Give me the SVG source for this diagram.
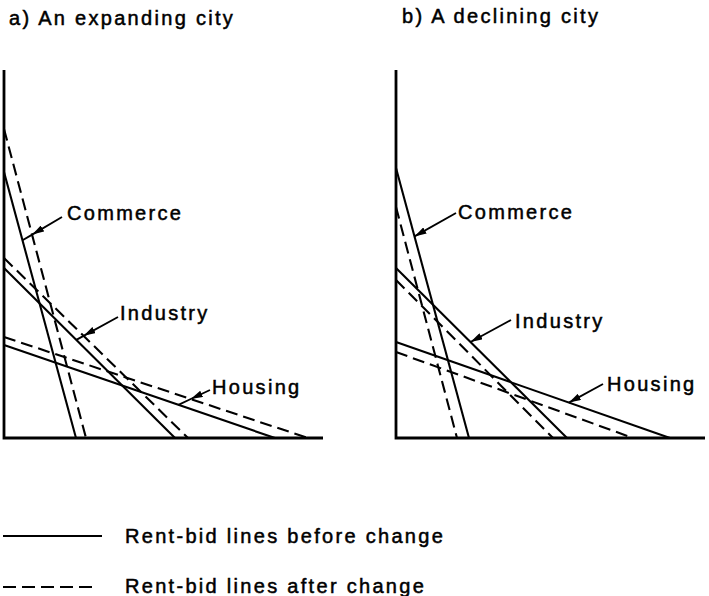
<svg xmlns="http://www.w3.org/2000/svg" width="709" height="596" viewBox="0 0 709 596">
<style>
text{font-family:"Liberation Sans",Arial,Helvetica,sans-serif;font-size:20px;letter-spacing:2.3px;fill:#000;stroke:#000;stroke-width:0.5px}
.ax{stroke:#000;stroke-width:2.8;fill:none}
.s{stroke:#000;stroke-width:2.1;fill:none}
.d{stroke:#000;stroke-width:2.1;fill:none;stroke-dasharray:12 6}
.ld{stroke:#000;stroke-width:1.9;fill:none}
</style>
<defs>
<marker id="ah" viewBox="0 0 12 7" refX="12" refY="3.5" markerWidth="12" markerHeight="7" markerUnits="userSpaceOnUse" orient="auto">
<path d="M0,0 L12,3.5 L0,7 z" fill="#000"/>
</marker>
</defs>
<rect width="709" height="596" fill="#fff"/>
<text id="title-a" x="9" y="25">a) An expanding city</text>
<text id="title-b" x="402" y="23">b) A declining city</text>

<g id="panel-a">
<path class="ax" d="M4,70 V438 H323"/>
<g id="a-commerce"><line class="s" x1="4" y1="172" x2="76" y2="438"/><line class="d" x1="4" y1="129" x2="86" y2="438"/><text x="67" y="220">Commerce</text></g>
<g id="a-industry"><line class="s" x1="4" y1="268" x2="175" y2="438"/><line class="d" x1="4" y1="258" x2="188" y2="438"/><text x="120" y="320">Industry</text></g>
<g id="a-housing"><line class="s" x1="4" y1="345" x2="275" y2="438"/><line class="d" x1="4" y1="337" x2="308" y2="438"/><text x="212" y="394">Housing</text></g>
</g>

<g id="panel-b">
<path class="ax" d="M396,70 V438 H705"/>
<g id="b-commerce"><line class="s" x1="396" y1="168" x2="469" y2="438"/><line class="d" x1="396" y1="207" x2="457" y2="438"/><text x="458" y="219">Commerce</text></g>
<g id="b-industry"><line class="s" x1="396" y1="268" x2="567" y2="438"/><line class="d" x1="396" y1="280" x2="553" y2="438"/><text x="515" y="328">Industry</text></g>
<g id="b-housing"><line class="s" x1="396" y1="342" x2="670" y2="438"/><line class="d" x1="396" y1="352" x2="633" y2="438"/><text x="607" y="391">Housing</text></g>
</g>

<g id="connectors">
<path class="ld" d="M62,217 L32.2,234.6 L22.5,240.3" marker-mid="url(#ah)"/>
<path class="ld" d="M118,317 L83.6,335.8 L76.3,339.8" marker-mid="url(#ah)"/>
<path class="ld" d="M210,390 L190.8,399 L178.4,404.8" marker-mid="url(#ah)"/>
<path class="ld" d="M456,213 L414.5,236.4" marker-end="url(#ah)"/>
<path class="ld" d="M511,320 L470.5,342" marker-end="url(#ah)"/>
<path class="ld" d="M603,384 L568.9,402.6" marker-end="url(#ah)"/>
</g>

<g id="legend">
<line class="s" x1="3" y1="536" x2="102" y2="536"/>
<text x="125" y="543">Rent-bid lines before change</text>
<line class="s" x1="3" y1="587" x2="98" y2="587" stroke-dasharray="13 6"/>
<text x="125" y="593">Rent-bid lines after change</text>
</g>
</svg>
